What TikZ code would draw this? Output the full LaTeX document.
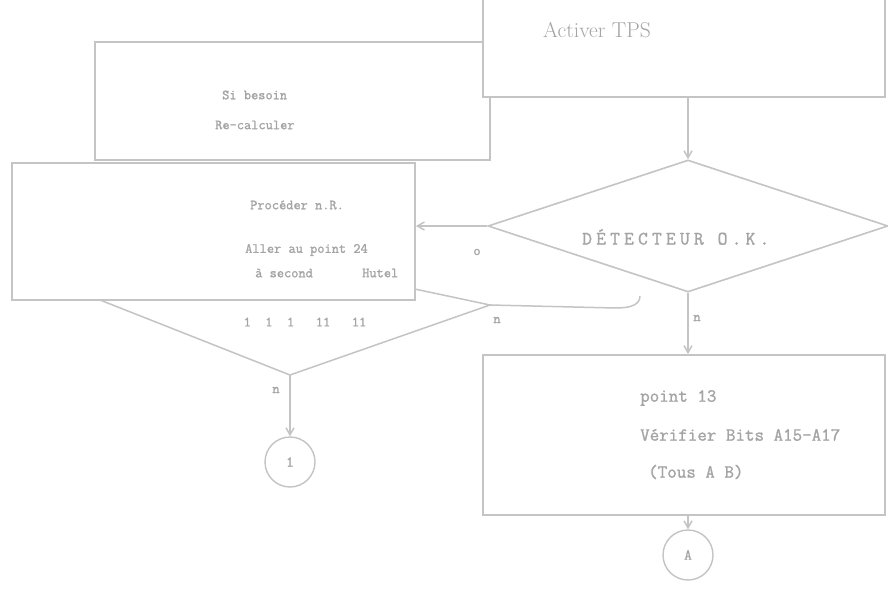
\documentclass[tikz,border=0pt]{standalone}
\usepackage{fontspec}
\setmonofont{Latin Modern Mono}[FakeBold=1.2]
\newfontfamily\twwide{Latin Modern Mono}[LetterSpace=22,FakeBold=1.2]
\usetikzlibrary{arrows.meta,shapes.geometric}
\definecolor{ln}{HTML}{C4C4C4}
\definecolor{tx}{HTML}{A4A4A4}
\begin{document}
\begin{tikzpicture}[x=1pt,y=-1pt,
  box/.style={draw=ln,line width=1.8pt,fill=white,inner sep=0pt},
  lbl/.style={text=tx,font=\ttfamily\fontsize{18.5}{20}\selectfont,anchor=west,inner sep=0pt},
  small/.style={text=tx,font=\ttfamily\fontsize{14}{16}\selectfont,inner sep=0pt},
  conn/.style={draw=ln,line width=1.5pt,-{Straight Barb[length=7pt,width=8pt]}},
  plain/.style={draw=ln,line width=1.5pt},
  circ/.style={draw=ln,line width=1.4pt,circle,minimum size=50pt,inner sep=0pt,text=tx,font=\ttfamily\fontsize{15}{17}\selectfont}]
\useasboundingbox (0,0) rectangle (888,601);
\fill[white] (0,0) rectangle (888,601);
% top-left box
\node[box,minimum width=395pt,minimum height=118pt] (tl) at (292.5,101) {};
\node[small,anchor=west] (tl1) at (222,95) {Si besoin};
\node[small,anchor=west] (tl2) at (215,125) {Re-calculer};
% top right box
\node[box,minimum width=402pt,minimum height=104pt] (tr) at (684,45) {};
\node[lbl,font=\rmfamily\fontsize{21.5}{24}\selectfont] (tr1) at (543,30) {Activer TPS};
% lower half diamond under left box
\coordinate (ldL) at (100,300);
\coordinate (ldB) at (290,375);
\coordinate (ldR) at (490,305);
\draw[plain] (ldL) -- (ldB) -- (ldR) -- (410,288);
\node[small] (ldn) at (497,320) {n};
\node[small] (ldt) at (305,322) {1 \ 1 \ 1 \ \ 11 \ \ 11};
\coordinate (ldX) at (615,308);
\draw[plain] (ldR) -- (ldX) to[out=0,in=-90] (640,296);
% left box
\node[box,minimum width=403pt,minimum height=137pt] (lb) at (213.5,231.5) {};
\node[small,anchor=west] (lb1) at (250,205) {Procéder n.R.};
\node[small,anchor=west] (lb2) at (245,250) {Aller au point 24};
\node[small,anchor=west] (lb3) at (255,273) {à second};
\node[small,anchor=west] (lb4) at (362,273) {Hutel};
% main diamond
\node[draw=ln,line width=1.6pt,diamond,aspect=3.05,minimum width=400pt,minimum height=132pt,inner sep=0pt] (dm) at (688,226) {};
\node[lbl,font=\twwide\fontsize{19}{21}\selectfont] (dmt) at (582,237) {DÉTECTEUR O.K.};
% bottom right box
\node[box,minimum width=402pt,minimum height=160pt] (br) at (684,435) {};
\node[lbl] (br1) at (640,398) {point 13};
\node[lbl] (br2) at (640,435) {Vérifier Bits A15-A17};
\node[lbl] (br3) at (648,472) {(Tous A B)};
% circles
\node[circ] (cA) at (688,555) {A};
\node[circ] (c1) at (290,462) {1};
% connectors
\draw[conn] (tr.south -| 688,0) -- (dm.north);
\draw[conn] (dm.west) -- (lb.east |- dm.west);
\node[small] (dmo) at (477,252) {o};
\draw[conn] (dm.south) -- (br.north -| dm.south);
\node[small] (dmn) at (697,318) {n};
\draw[conn] (br.south -| cA.north) -- (cA.north);
\draw[conn] (ldB) -- (c1.north);
\node[small] (ldbn) at (276,390) {n};
\end{tikzpicture}
\end{document}
